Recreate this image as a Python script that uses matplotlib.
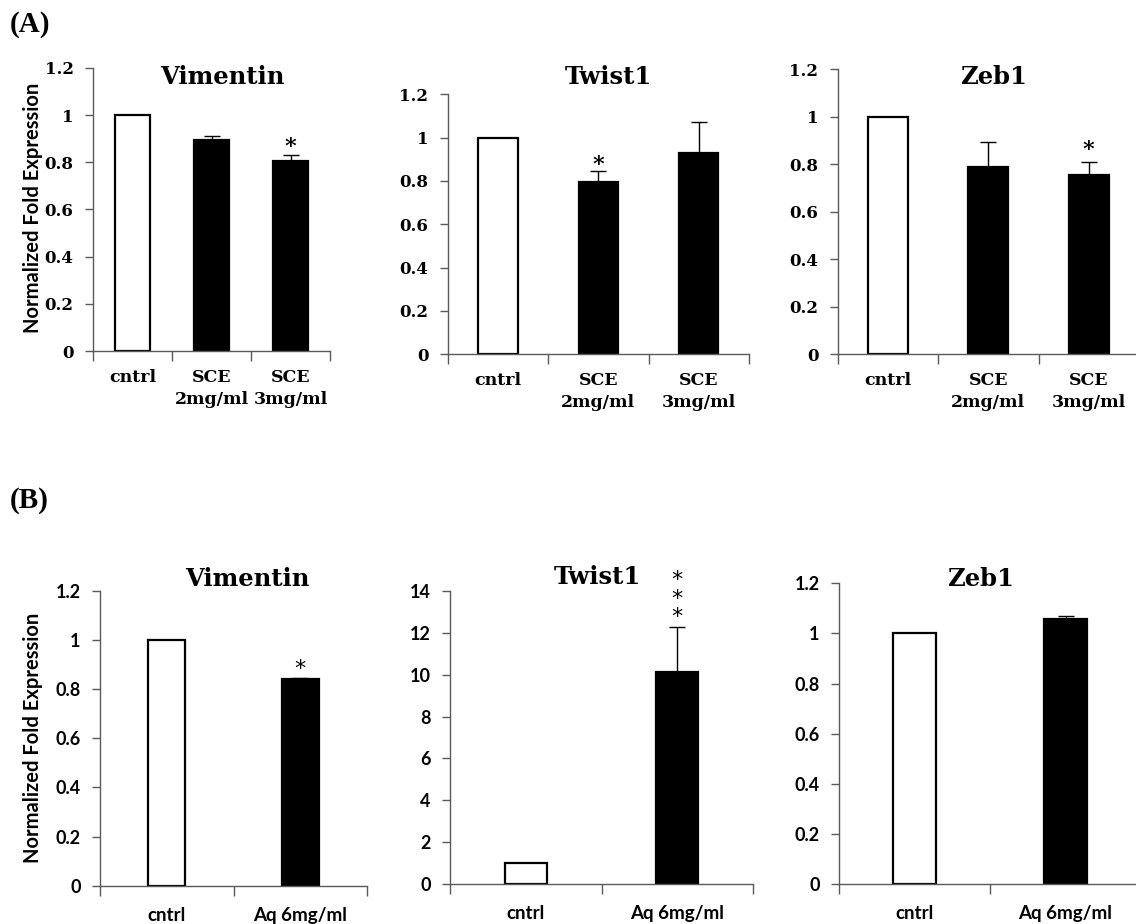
import matplotlib
matplotlib.use("Agg")
import matplotlib.pyplot as plt
from matplotlib.ticker import FixedLocator, FuncFormatter, NullFormatter

# ---- data -------------------------------------------------------------
a_categories = ["cntrl", "SCE\n2mg/ml", "SCE\n3mg/ml"]
a_vimentin = [1.0, 0.893, 0.805]
a_vimentin_err = [0.0, 0.017, 0.024]
a_twist1 = [1.0, 0.795, 0.928]
a_twist1_err = [0.0, 0.053, 0.146]
a_zeb1 = [1.0, 0.787, 0.755]
a_zeb1_err = [0.0, 0.105, 0.055]
a_vimentin_stars = [0, 0, 1]
a_twist1_stars = [0, 1, 0]
a_zeb1_stars = [0, 0, 1]

b_categories = ["cntrl", "Aq 6mg/ml"]
b_vimentin = [1.0, 0.841]
b_vimentin_err = [0.0, 0.005]
b_twist1 = [1.0, 10.14]
b_twist1_err = [0.0, 2.14]
b_zeb1 = [1.0, 1.056]
b_zeb1_err = [0.0, 0.015]
b_vimentin_stars = [0, 1]
b_twist1_stars = [0, 3]
b_zeb1_stars = [0, 0]

gene_titles = ["Vimentin", "Twist1", "Zeb1"]
y_label = "Normalized Fold Expression"

# ---- styling ----------------------------------------------------------
SERIF = "DejaVu Serif"
SANS = "Lato"
AXIS_COLOR = "#5a5a5a"
W, H = 1136, 924

fig = plt.figure(figsize=(W / 100, H / 100), dpi=100)


def px_axes(left, right, top, bottom):
    """Axes rectangle given in pixel coordinates measured from the top-left."""
    return fig.add_axes([left / W, 1 - bottom / H, (right - left) / W, (bottom - top) / H])


def draw_panel(ax, cats, vals, errs, stars, ymax, ystep, bar_w, title, title_xy,
               tick_font, cat_font, cat_pad, star_font, star_gap, star_step):
    n = len(cats)
    xs = list(range(n))
    colors = ["white"] + ["black"] * (n - 1)
    ax.errorbar(xs, vals, yerr=[[0] * n, errs], fmt="none", ecolor="black",
                elinewidth=1.0, capsize=6, capthick=1.0, zorder=1)
    ax.bar(xs, vals, width=bar_w, color=colors, edgecolor="black",
           linewidth=1.6, zorder=2)
    ax.set_xlim(-0.5, n - 0.5)
    ax.set_ylim(0, ymax)
    yt = [i * ystep for i in range(int(round(ymax / ystep)) + 1)]
    ax.yaxis.set_major_locator(FixedLocator(yt))
    ax.yaxis.set_major_formatter(FuncFormatter(lambda v, p: f"{v:g}"))
    ax.xaxis.set_major_locator(FixedLocator([i - 0.5 for i in range(n + 1)]))
    ax.xaxis.set_major_formatter(NullFormatter())
    ax.xaxis.set_minor_locator(FixedLocator(xs))
    ax.set_xticklabels(cats, minor=True, **cat_font)
    ax.tick_params(axis="x", which="major", direction="out", length=7,
                   width=1.0, color=AXIS_COLOR)
    ax.tick_params(axis="x", which="minor", length=0, pad=cat_pad)
    ax.tick_params(axis="y", direction="out", length=6, width=1.0,
                   color=AXIS_COLOR, pad=8)
    for lab in ax.get_yticklabels():
        lab.set(**tick_font)
    for s in ("top", "right"):
        ax.spines[s].set_visible(False)
    for s in ("left", "bottom"):
        ax.spines[s].set_color(AXIS_COLOR)
        ax.spines[s].set_linewidth(1.0)
    ax.spines["bottom"].set_zorder(3)
    ax.patch.set_alpha(0)
    ax.text(title_xy[0], title_xy[1], title, transform=ax.transAxes,
            ha="center", va="center", family=SERIF, fontweight="bold",
            fontsize=17.5)
    for x, v, e, k in zip(xs, vals, errs, stars):
        for j in range(k):
            ax.annotate("*", xy=(x, v + e), xytext=(0, star_gap + j * star_step),
                        textcoords="offset points", ha="center", va="baseline",
                        annotation_clip=False, **star_font)


serif_tick = dict(family=SERIF, fontweight="bold", fontsize=12)
serif_cat = dict(family=SERIF, fontweight="bold", fontsize=12.5, linespacing=1.35)
sans_tick = dict(family=SANS, fontweight="bold", fontsize=13)
sans_cat = dict(family=SANS, fontweight="bold", fontsize=13.5)
serif_star = dict(family=SERIF, fontweight="bold", fontsize=16)
sans_star = dict(family="DejaVu Sans", fontsize=16)

# ---- row A ------------------------------------------------------------
ax = px_axes(93, 330, 68, 351)
draw_panel(ax, a_categories, a_vimentin, a_vimentin_err, a_vimentin_stars,
           1.2, 0.2, 0.455, gene_titles[0], (0.544, 0.968),
           serif_tick, serif_cat, 13, serif_star, 2, 13)
ax = px_axes(447.7, 749, 94.3, 354.3)
draw_panel(ax, a_categories, a_twist1, a_twist1_err, a_twist1_stars,
           1.2, 0.2, 0.39, gene_titles[1], (0.532, 1.067),
           serif_tick, serif_cat, 13, serif_star, 0, 13)
ax = px_axes(837.7, 1139, 69.3, 354.3)
draw_panel(ax, a_categories, a_zeb1, a_zeb1_err, a_zeb1_stars,
           1.2, 0.2, 0.40, gene_titles[2], (0.516, 0.973),
           serif_tick, serif_cat, 13, serif_star, 4, 13)

# ---- row B ------------------------------------------------------------
ax = px_axes(100, 367, 590.7, 885.7)
draw_panel(ax, b_categories, b_vimentin, b_vimentin_err, b_vimentin_stars,
           1.2, 0.2, 0.28, gene_titles[0], (0.551, 1.04),
           sans_tick, sans_cat, 15, sans_star, 2, 13)
ax = px_axes(450, 753, 590.7, 884.3)
draw_panel(ax, b_categories, b_twist1, b_twist1_err, b_twist1_stars,
           14, 2, 0.28, gene_titles[1], (0.488, 1.047),
           sans_tick, sans_cat, 15, sans_star, 3, 13)
ax = px_axes(839, 1141, 583.3, 884.3)
draw_panel(ax, b_categories, b_zeb1, b_zeb1_err, b_zeb1_stars,
           1.2, 0.2, 0.28, gene_titles[2], (0.467, 1.014),
           sans_tick, sans_cat, 15, sans_star, 0, 13)

# ---- shared labels ----------------------------------------------------
for yc in (208, 738):
    fig.text(33 / W, 1 - yc / H, y_label, rotation=90, ha="center", va="center",
             family=SANS, fontweight="bold", fontsize=14.5)
fig.text(10 / W, 1 - 25 / H, "(A)", ha="left", va="center",
         family="Liberation Serif", fontweight="bold", fontsize=21)
fig.text(10 / W, 1 - 500 / H, "(B)", ha="left", va="center",
         family="Liberation Serif", fontweight="bold", fontsize=21)

fig.savefig("out.png", dpi=100, facecolor="white")
